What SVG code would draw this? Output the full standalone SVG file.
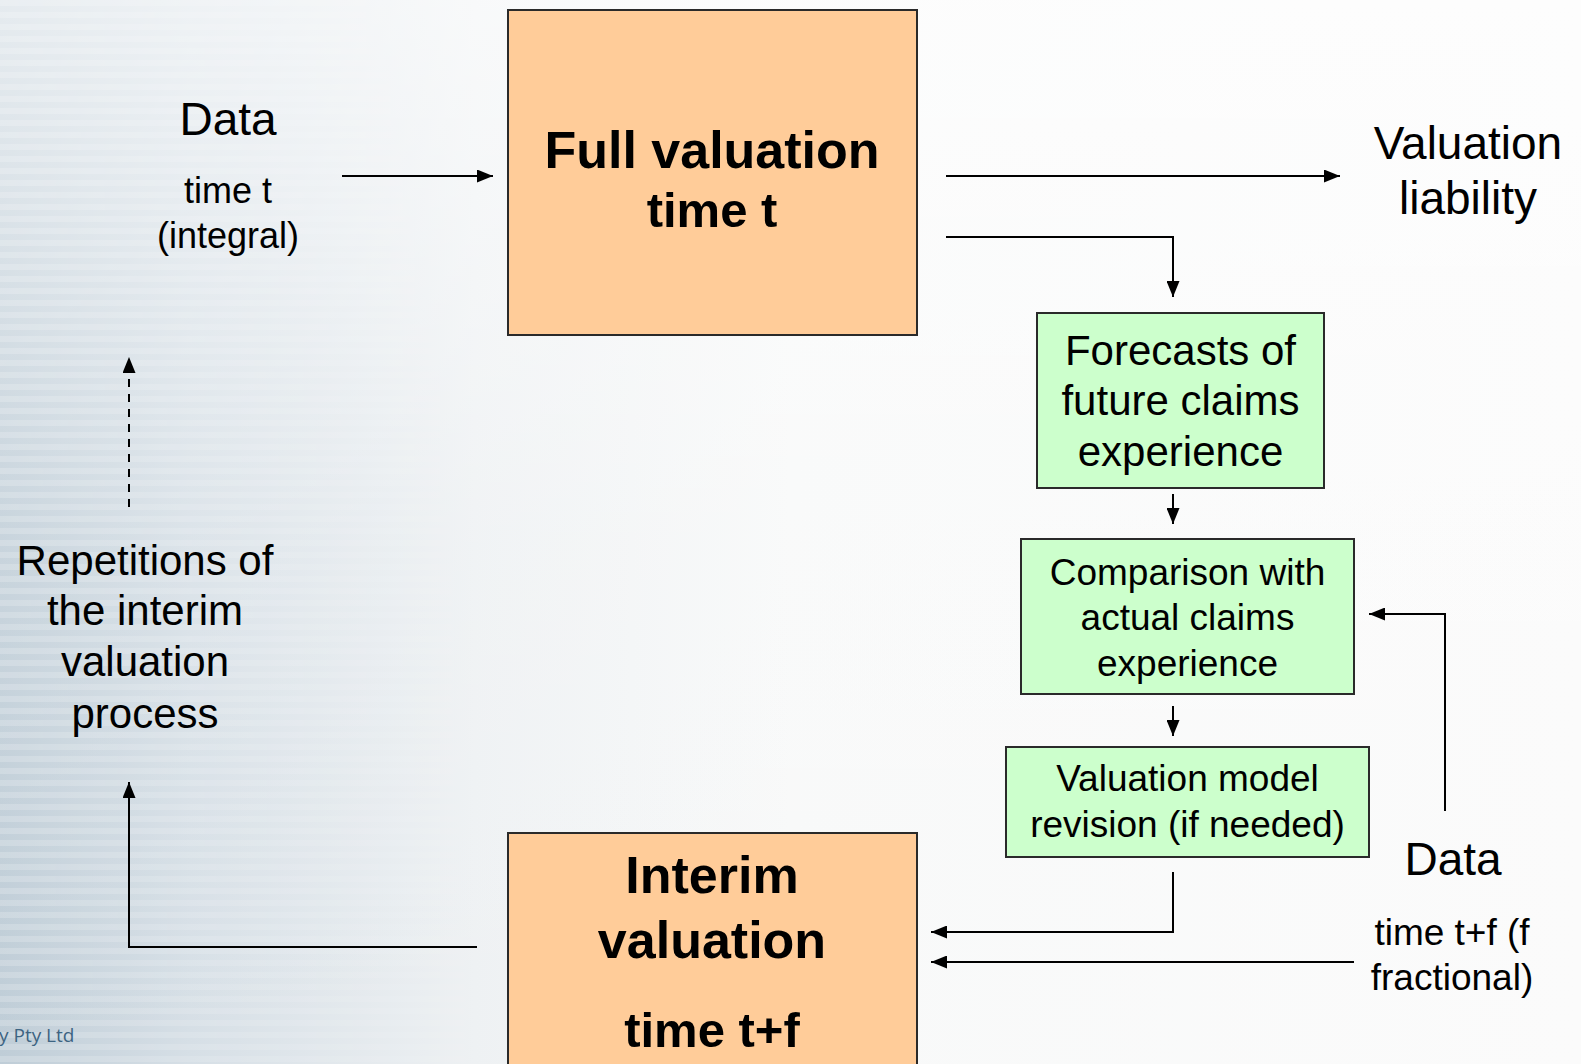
<svg xmlns="http://www.w3.org/2000/svg" width="1581" height="1064" viewBox="0 0 1581 1064">
  <style>
    .node-warm { fill: #FFCC99; stroke: #2a2a2a; stroke-width: 2; }
    .node-green { fill: #CCFFCC; stroke: #2a2a2a; stroke-width: 2; }
    .t { font-family: "Liberation Sans", Arial, sans-serif; fill: #000; text-anchor: middle; }
    .b { font-weight: bold; }
    .link { fill: none; stroke: #000; stroke-width: 2; }
    .dash { stroke-dasharray: 8 7; }
  </style>
  <defs>
    <linearGradient id="bgH" x1="0" y1="0" x2="1" y2="0">
      <stop offset="0" stop-color="#bfcdd7"/>
      <stop offset="0.12" stop-color="#d6dfe6"/>
      <stop offset="0.3" stop-color="#eef1f3"/>
      <stop offset="0.5" stop-color="#f8f9f9"/>
      <stop offset="1" stop-color="#fbfbfb"/>
    </linearGradient>
    <linearGradient id="bgV" x1="0" y1="0" x2="0" y2="1">
      <stop offset="0" stop-color="#ffffff" stop-opacity="0.6"/>
      <stop offset="0.5" stop-color="#ffffff" stop-opacity="0.15"/>
      <stop offset="1" stop-color="#ffffff" stop-opacity="0"/>
    </linearGradient>
    <pattern id="stripes" width="8" height="12" patternUnits="userSpaceOnUse">
      <rect width="8" height="6" fill="#ffffff" opacity="0.2"/>
    </pattern>
    <linearGradient id="stripeFade" x1="0" y1="0" x2="1" y2="0">
      <stop offset="0" stop-color="#fff" stop-opacity="1"/>
      <stop offset="0.4" stop-color="#fff" stop-opacity="0"/>
    </linearGradient>
    <mask id="stripeMask">
      <rect width="1581" height="1064" fill="url(#stripeFade)"/>
    </mask>
    <marker id="arrow" viewBox="0 0 16 13" refX="16" refY="6.5" markerWidth="16" markerHeight="13" markerUnits="userSpaceOnUse" orient="auto">
      <path d="M0,0 L16,6.5 L0,13 Z" fill="#000"/>
    </marker>
  </defs>

  <!-- backdrop -->
  <rect width="1581" height="1064" fill="url(#bgH)"/>
  <rect width="1581" height="1064" fill="url(#bgV)"/>
  <rect width="1581" height="1064" fill="url(#stripes)" mask="url(#stripeMask)"/>
  <text x="-1" y="1042" font-family="'Open Sans', 'Liberation Sans', sans-serif" font-size="19" fill="#3d6482">y Pty Ltd</text>

  <!-- connectors -->
  <g id="connectors">
    <path class="link" d="M342,176 H493" marker-end="url(#arrow)"/>
    <path class="link" d="M946,176 H1340" marker-end="url(#arrow)"/>
    <path class="link" d="M946,237 H1173 V297" marker-end="url(#arrow)"/>
    <path class="link" d="M1173,494 V524" marker-end="url(#arrow)"/>
    <path class="link" d="M1173,706 V736" marker-end="url(#arrow)"/>
    <path class="link" d="M1173,872 V932 H931" marker-end="url(#arrow)"/>
    <path class="link" d="M1354,962 H931" marker-end="url(#arrow)"/>
    <path class="link" d="M1445,811 V614 H1369" marker-end="url(#arrow)"/>
    <path class="link" d="M477,947 H129 V782" marker-end="url(#arrow)"/>
    <path class="link dash" d="M129,507 V357" marker-end="url(#arrow)"/>
  </g>

  <!-- input data at time t -->
  <g id="data-t">
    <text class="t" x="228" y="135" font-size="46">Data</text>
    <text class="t" x="228" y="203" font-size="36">time t</text>
    <text class="t" x="228" y="248" font-size="36">(integral)</text>
  </g>

  <g id="full-valuation">
    <rect class="node-warm" x="508" y="10" width="409" height="325"/>
    <text class="t b" x="712" y="168" font-size="52">Full valuation</text>
    <text class="t b" x="712" y="227" font-size="49">time t</text>
  </g>

  <g id="valuation-liability">
    <text class="t" x="1468" y="159" font-size="46">Valuation</text>
    <text class="t" x="1468" y="214" font-size="46">liability</text>
  </g>

  <g id="forecasts">
    <rect class="node-green" x="1037" y="313" width="287" height="175"/>
    <text class="t" x="1180.5" y="365" font-size="42">Forecasts of</text>
    <text class="t" x="1180.5" y="415" font-size="42">future claims</text>
    <text class="t" x="1180.5" y="466" font-size="42">experience</text>
  </g>

  <g id="comparison">
    <rect class="node-green" x="1021" y="539" width="333" height="155"/>
    <text class="t" x="1187.5" y="585" font-size="37">Comparison with</text>
    <text class="t" x="1187.5" y="630" font-size="37">actual claims</text>
    <text class="t" x="1187.5" y="676" font-size="37">experience</text>
  </g>

  <g id="model-revision">
    <rect class="node-green" x="1006" y="747" width="363" height="110"/>
    <text class="t" x="1187.5" y="791" font-size="37">Valuation model</text>
    <text class="t" x="1187.5" y="837" font-size="37">revision (if needed)</text>
  </g>

  <g id="data-tf">
    <text class="t" x="1453" y="875" font-size="46">Data</text>
    <text class="t" x="1452" y="945" font-size="37">time t+f (f</text>
    <text class="t" x="1452" y="990" font-size="37">fractional)</text>
  </g>

  <g id="interim-valuation">
    <rect class="node-warm" x="508" y="833" width="409" height="240"/>
    <text class="t b" x="712" y="893" font-size="52">Interim</text>
    <text class="t b" x="712" y="958" font-size="52">valuation</text>
    <text class="t b" x="712" y="1047" font-size="49">time t+f</text>
  </g>

  <g id="repetitions">
    <text class="t" x="145" y="575" font-size="42">Repetitions of</text>
    <text class="t" x="145" y="625" font-size="42">the interim</text>
    <text class="t" x="145" y="676" font-size="42">valuation</text>
    <text class="t" x="145" y="728" font-size="42">process</text>
  </g>
</svg>
